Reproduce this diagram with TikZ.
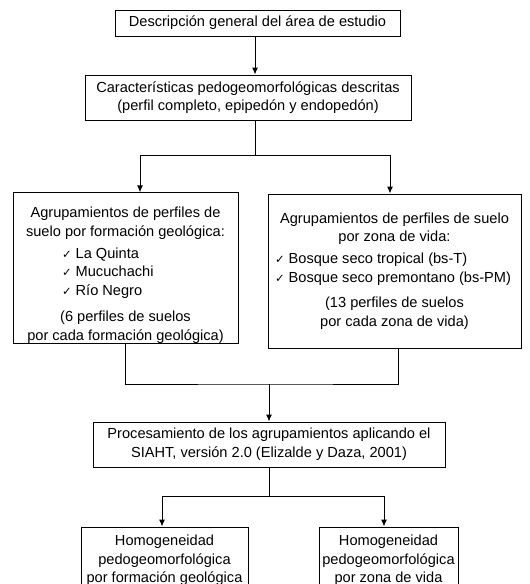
\documentclass[tikz,border=0pt]{standalone}
\usepackage{fontspec}
\setmainfont{Liberation Sans}
\newfontfamily\dejavu{DejaVu Sans}
\usetikzlibrary{arrows.meta}
\newcommand{\visto}{{\dejavu\fontsize{11.5pt}{11.5pt}\selectfont ✓}}

\begin{document}
\begin{tikzpicture}[x=1pt, y=-1pt,
		caja/.style={draw, line width=1pt, align=center, inner xsep=1pt, inner ysep=0pt,
			font=\fontsize{14.6pt}{18.7pt}\selectfont},
		flecha/.style={-{Latex[length=7pt,width=6pt]}, line width=1pt}]
			\useasboundingbox (0,0) rectangle (530,584);
			\clip (0,0) rectangle (530,584);
			% cajas
			\node [caja, minimum width=285, minimum height=26] (desc) at (257.5,23) {Descripción general del área de estudio};
			\node [caja, minimum width=326, minimum height=45] (carac) at (248,97.5) {Características pedogeomorfológicas descritas\\ (perfil completo, epipedón y endopedón)};
			\node [caja, minimum width=225, minimum height=150] (geo) at (125.5,268) {\rule{0pt}{25pt}Agrupamientos de perfiles de\\
				suelo por formación geológica:\\[3pt]
				\makebox[127pt][l]{\visto\ La Quinta}\\
				\makebox[127pt][l]{\visto\ Mucuchachi}\\
				\makebox[127pt][l]{\visto\ Río Negro}\\[7pt]
				(6 perfiles de suelos\\
				por cada formación geológica)};
			\node [caja, minimum width=253, minimum height=154] (zona) at (394.5,271) {Agrupamientos de perfiles de suelo\\
				por zona de vida:\\[3pt]
				\makebox[239pt][l]{\visto\ Bosque seco tropical (bs-T)}\\
				\makebox[239pt][l]{\visto\ Bosque seco premontano (bs-PM)}\\[7pt]
				(13 perfiles de suelos\\
				por cada zona de vida)};
			\node [caja, minimum width=352, minimum height=45] (proc) at (269,444.5) {Procesamiento de los agrupamientos aplicando el\\ SIAHT, versión 2.0 (Elizalde y Daza, 2001)};
			\node [caja, minimum width=167, minimum height=67] (hgeo) at (164.5,560.5) {Homogeneidad\\ pedogeomorfológica\\ por formación geológica};
			\node [caja, minimum width=139, minimum height=67] (hzona) at (388.5,560.5) {Homogeneidad\\ pedogeomorfológica\\ por zona de vida};
			% conectores
			\coordinate (divide1) at (255,155);
			\coordinate (union) at (269,384);
			\coordinate (divide2) at (269,496);
			\draw [flecha] ([xshift=-2.5pt]desc.south) -- ([xshift=-2.5pt]desc.south |- carac.north);
			\draw [line width=1pt] (divide1 |- carac.south) -- (divide1);
			\draw [flecha] (divide1) -| ([xshift=14.5pt]geo.north);
			\draw [flecha] (divide1) -| ([xshift=-4.5pt]zona.north);
			\draw [line width=1pt] (geo.south) |- (union) -| ([xshift=3.5pt]zona.south);
			\draw [flecha] (union) -- (proc.north);
			\draw [line width=1pt] (proc.south) -- (divide2);
			\draw [flecha] (divide2) -| ([xshift=-2.5pt]hgeo.north);
			\draw [flecha] (divide2) -| ([xshift=-4.5pt]hzona.north);
		\end{tikzpicture}
\end{document}
